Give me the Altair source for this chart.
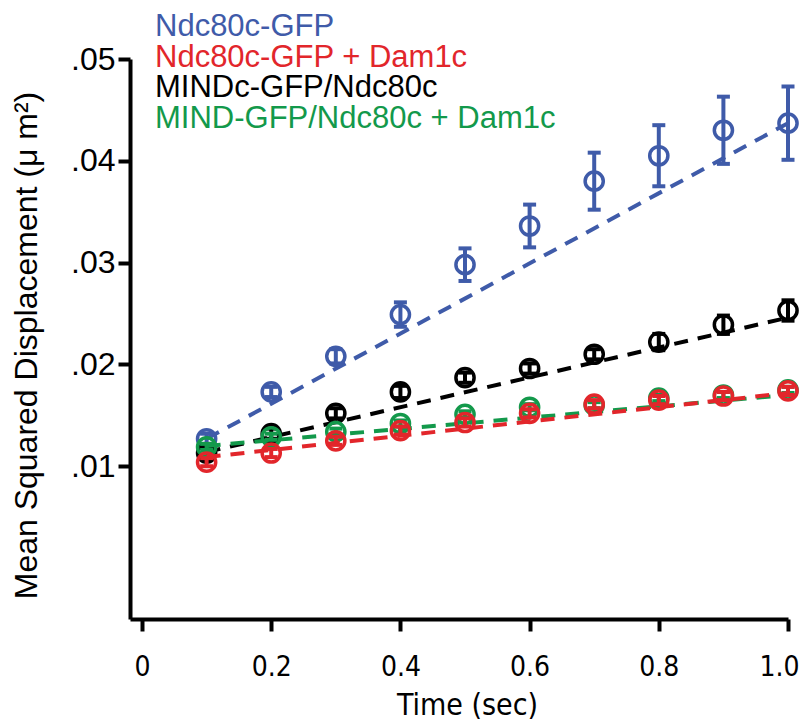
import altair as alt
import pandas as pd

# ---------------- data ----------------
times = [0.1, 0.2, 0.3, 0.4, 0.5, 0.6, 0.7, 0.8, 0.9, 1.0]

series_names = ["Ndc80c-GFP", "Ndc80c-GFP + Dam1c", "MINDc-GFP/Ndc80c", "MIND-GFP/Ndc80c + Dam1c"]
series_colors = ["#3F5BA9", "#E2262B", "#000000", "#13994B"]

ndc80_msd = [0.0127, 0.0173, 0.0208, 0.0249, 0.0298, 0.0336, 0.0380, 0.0405, 0.0430, 0.0437]
ndc80_err = [0.0005, 0.0005, 0.0007, 0.0012, 0.0016, 0.0021, 0.0028, 0.0030, 0.0033, 0.0036]

ndc80_dam_msd = [0.0104, 0.0113, 0.0125, 0.0135, 0.0143, 0.0152, 0.0161, 0.0165, 0.0169, 0.0174]
ndc80_dam_err = [0.0004, 0.0004, 0.0004, 0.0004, 0.0004, 0.0004, 0.0004, 0.0004, 0.0004, 0.0004]

mind_msd = [0.0113, 0.0132, 0.0152, 0.0173, 0.0187, 0.0196, 0.0210, 0.0222, 0.0239, 0.0253]
mind_err = [0.0005, 0.0005, 0.0005, 0.0006, 0.0005, 0.0005, 0.0005, 0.0008, 0.0009, 0.0010]

mind_dam_msd = [0.0119, 0.0129, 0.0134, 0.0142, 0.0151, 0.0158, 0.0160, 0.0167, 0.0170, 0.0175]
mind_dam_err = [0.0003, 0.0003, 0.0003, 0.0003, 0.0003, 0.0003, 0.0003, 0.0003, 0.0003, 0.0003]

# dashed linear fits: value at t = 0.1 and at t = 1.0
fit_t = [0.1, 1.0]
ndc80_fit = [0.0127, 0.0437]
ndc80_dam_fit = [0.0109, 0.0172]
mind_fit = [0.0114, 0.0246]
mind_dam_fit = [0.0120, 0.0170]

x_ticks = [0, 0.2, 0.4, 0.6, 0.8, 1.0]
y_ticks = [0.01, 0.02, 0.03, 0.04, 0.05]
x_domain = [-0.0186, 1.0]
y_domain = [-0.005, 0.05]

# ---------------- build tables ----------------
measured = {
    "Ndc80c-GFP": (ndc80_msd, ndc80_err, ndc80_fit),
    "Ndc80c-GFP + Dam1c": (ndc80_dam_msd, ndc80_dam_err, ndc80_dam_fit),
    "MINDc-GFP/Ndc80c": (mind_msd, mind_err, mind_fit),
    "MIND-GFP/Ndc80c + Dam1c": (mind_dam_msd, mind_dam_err, mind_dam_fit),
}
color_of = dict(zip(series_names, series_colors))

SANS = "Liberation Sans, Arial, Helvetica, sans-serif"
NARROW = "Liberation Sans Narrow, Arial Narrow, DejaVu Sans Condensed, sans-serif"

x_scale = alt.Scale(domain=x_domain, nice=False, zero=False)
y_scale = alt.Scale(domain=y_domain, nice=False, zero=False)

x_axis = alt.Axis(
    values=x_ticks, grid=False, domainColor="black", domainWidth=4,
    tickColor="black", tickWidth=4, tickSize=12,
    labelFont=NARROW, labelFontSize=28, labelColor="black", labelPadding=22,
    labelExpr="datum.value == 0 ? '0' : format(datum.value, '.1f')",
    labelOffset={"condition": {"test": "datum.value >= 1", "value": -9}, "value": 0},
    labelFlush=False, labelOverlap=False,
    titleFont=NARROW, titleFontSize=30, titleFontWeight="normal", titleColor="black",
    titleX=337, titleY=95, titleAlign="center", titleBaseline="alphabetic",
)
y_axis = alt.Axis(
    values=y_ticks, grid=False, domainColor="black", domainWidth=4,
    tickColor="black", tickWidth=4, tickSize=12,
    labelFont=SANS, labelFontSize=32, labelColor="black", labelPadding=3,
    labelExpr="substring(format(datum.value, '.2f'), 1)",
    labelFlush=False, labelOverlap=False, labelBaseline="middle",
    titleFont=SANS, titleFontSize=32, titleFontWeight="normal", titleColor="black",
    titleX=-104, titleY=286, titleAngle=270, titleAlign="center", titleBaseline="middle",
)

X = lambda f: alt.X(f, type="quantitative", scale=x_scale, axis=x_axis, title="Time (sec)")
Y = lambda f: alt.Y(f, type="quantitative", scale=y_scale, axis=y_axis,
                    title="Mean Squared Displacement (\u03bc m\u00b2)")

draw_order = ["Ndc80c-GFP", "MINDc-GFP/Ndc80c", "MIND-GFP/Ndc80c + Dam1c", "Ndc80c-GFP + Dam1c"]

layers = []
for name in draw_order:
    vals, errs, fit = measured[name]
    col = color_of[name]
    df = pd.DataFrame({
        "t": times, "msd": vals,
        "lo": [v - e for v, e in zip(vals, errs)],
        "hi": [v + e for v, e in zip(vals, errs)],
    })
    fit_df = pd.DataFrame({"t": fit_t, "msd": fit})
    line = alt.Chart(fit_df).mark_line(
        color=col, strokeWidth=4, strokeDash=[14, 10]
    ).encode(x=X("t"), y=Y("msd"))
    bar = alt.Chart(df).mark_rule(color=col, strokeWidth=4).encode(
        x=X("t"), y=Y("lo"), y2="hi"
    )
    caps = alt.Chart(df).transform_fold(["lo", "hi"], as_=["end", "val"]).mark_tick(
        color=col, orient="horizontal", size=13, thickness=4, opacity=1
    ).encode(x=X("t"), y=Y("val"))
    pts = alt.Chart(df).mark_point(
        shape="circle", filled=False, color=col, size=330, strokeWidth=3.5, opacity=1
    ).encode(x=X("t"), y=Y("msd"))
    layers += [line, bar, caps, pts]

# legend as coloured text lines above the plot
LEG_X = 25
LEG_Y0 = -23
LEG_STEP = 30.5
for i, name in enumerate(series_names):
    ldf = pd.DataFrame({"label": [name]})
    layers.append(
        alt.Chart(ldf).mark_text(
            font=SANS, fontSize=31, align="left", baseline="alphabetic",
            color=color_of[name]
        ).encode(
            x=alt.value(LEG_X), y=alt.value(LEG_Y0 + i * LEG_STEP), text="label:N"
        )
    )

chart = alt.layer(*layers).properties(
    width=658, height=560,
    autosize=alt.AutoSizeParams(type="none"),
    padding={"left": 122, "top": 51, "right": 14, "bottom": 105},
    background="white",
).configure_view(stroke=None)

chart.save("out.html", embed_options={"renderer": "svg", "actions": False})
